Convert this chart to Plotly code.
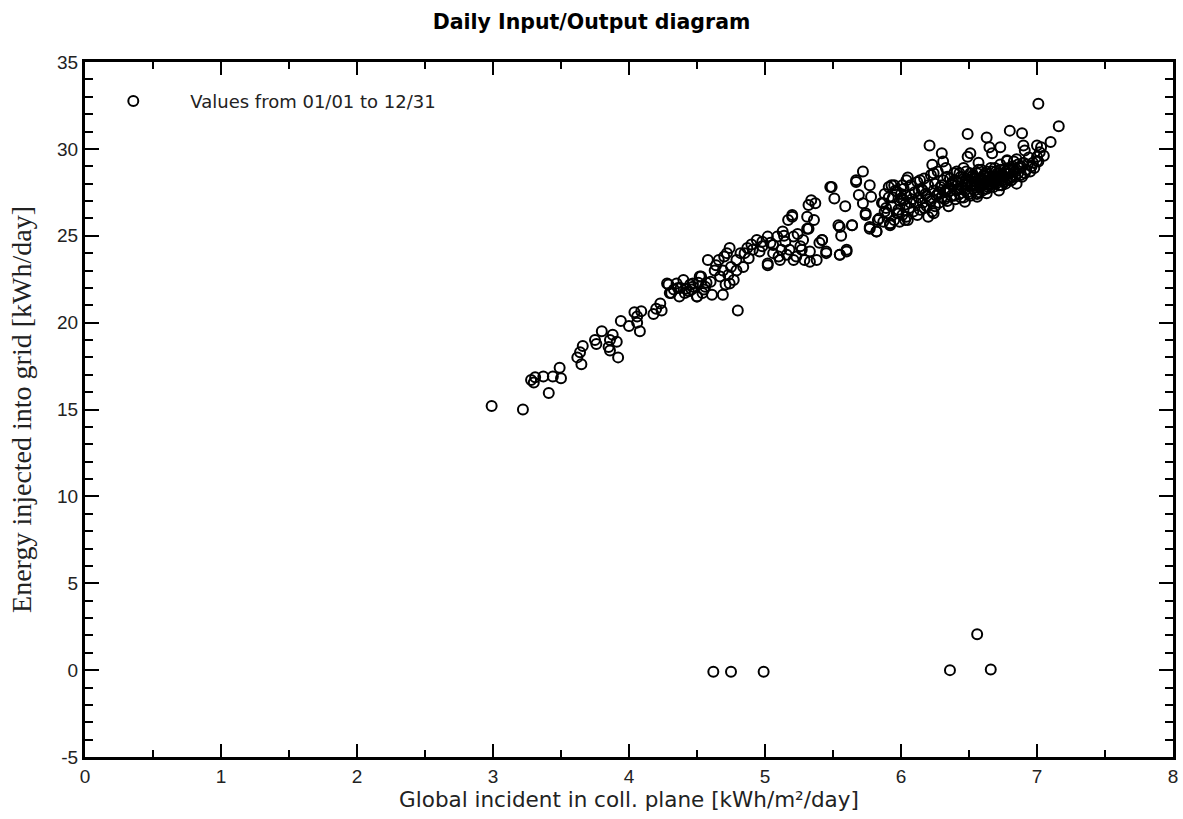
import plotly.graph_objects as go

# Global incident irradiation in collector plane [kWh/m2/day]
gi = [
    2.99, 3.22, 3.41, 3.28, 3.31, 3.30, 3.37, 3.44, 3.49, 3.50,
    3.62, 3.64, 3.66, 3.65, 3.75, 3.76, 3.80, 3.86, 3.88, 3.85, 3.91, 3.86, 3.92,
    3.94, 4.00, 4.04, 4.06, 4.08, 4.09, 4.06, 4.18, 4.20, 4.23, 4.24,
    4.28, 4.29, 4.33, 4.35, 4.37, 4.40, 4.42, 4.47, 4.50, 4.53, 4.55,
    4.47, 4.52, 4.50, 4.58, 4.56, 4.61, 4.66, 4.69, 4.69, 4.72, 4.74, 4.75, 4.77, 4.80,
    4.79, 4.84, 4.85, 4.88, 4.94, 4.98, 5.02, 5.02, 5.06, 5.10, 5.11, 5.13, 5.15, 5.18,
    5.17, 5.20, 5.21, 5.23, 5.26, 5.28, 5.31, 5.32, 5.32, 5.34, 5.37, 5.36, 5.33, 5.38,
    5.42, 5.45, 5.49, 5.51, 5.54, 5.56, 5.55, 5.60, 5.59, 5.64, 5.67, 5.69, 5.72, 5.72,
    5.77, 5.78, 5.74, 5.77, 5.82, 5.83, 5.87, 5.88, 5.92, 5.93, 5.97, 5.98, 6.02, 6.03,
    6.04, 6.00,
    4.45, 4.60, 4.63, 4.67, 4.73, 4.71, 4.74, 4.79, 4.82, 4.87,
    5.06, 5.16, 5.21, 5.29, 4.98, 4.91, 5.09, 5.12, 5.02, 5.33, 5.45, 5.55, 5.60,
    5.42, 5.31, 5.20, 5.48, 5.67, 5.64, 5.55, 5.74, 5.82, 5.77, 5.92, 5.97,
    4.30, 4.38, 4.44, 4.57, 4.64, 4.70, 4.90, 4.96, 5.04, 5.14, 5.24, 5.27, 5.40,
    5.86, 5.88, 5.90, 5.91, 5.93, 5.94, 5.95, 5.96, 5.98, 5.99, 6.00, 6.01, 6.02,
    6.03, 6.04, 6.05, 6.06, 6.07, 6.08, 6.09, 6.10, 6.11, 6.12, 6.13, 6.14, 6.15,
    6.16, 6.17, 6.18, 6.19, 6.20, 6.21, 6.22, 6.23, 6.24, 6.25, 6.26, 6.27, 6.28,
    6.29, 6.30, 6.31, 6.32, 6.33, 6.34, 6.35, 6.36, 6.37, 6.38, 6.39, 6.40, 6.41,
    6.42, 6.43, 6.44, 6.45, 6.46, 6.47, 6.48, 6.49, 6.50, 6.51, 6.52, 6.53, 6.54,
    6.55, 6.56, 6.57, 6.58, 6.59, 6.60, 6.61, 6.62, 6.63, 6.64, 6.65, 6.66, 6.67,
    6.68, 6.69, 6.70, 6.71, 6.72, 6.73, 6.74, 6.75, 6.76, 6.77, 6.78, 6.79, 6.80,
    6.82, 6.84, 6.85, 6.87, 6.89, 6.90, 6.92, 6.94, 6.96, 6.98, 7.00, 7.02, 7.05,
    6.05, 6.14, 6.16, 6.24, 6.23, 6.31, 6.30, 6.41, 6.51, 6.49, 6.57, 6.65, 6.67,
    6.73, 6.78, 6.83, 6.90, 6.91, 6.86, 7.00, 7.03, 7.00, 7.01, 6.95, 6.88, 7.10,
    7.16, 7.01, 6.80, 6.89, 6.63, 6.49, 6.21, 5.95,
    5.92, 5.99, 6.04, 6.12, 6.20, 6.24, 6.35, 6.47, 6.56, 6.63, 6.72, 6.85,
    6.33, 6.38, 6.44, 6.52, 6.58, 6.61, 6.66, 6.70, 6.74, 6.77, 6.81, 6.46, 6.55,
    6.28, 6.30, 6.32, 6.34, 6.36, 6.37, 6.39, 6.40, 6.42, 6.43, 6.44, 6.45, 6.47,
    6.48, 6.49, 6.50, 6.51, 6.52, 6.53, 6.54, 6.55, 6.56, 6.57, 6.58, 6.59, 6.60,
    6.61, 6.62, 6.63, 6.64, 6.65, 6.66, 6.67, 6.68, 6.69, 6.70, 6.71, 6.72, 6.73,
    6.74, 6.75, 6.76, 6.77, 6.78, 6.79, 6.80, 6.81, 6.83, 6.84, 6.86, 6.88, 6.91,
    6.93, 6.97,
    5.84, 5.87, 5.89, 5.91, 6.01, 6.07, 6.13, 6.17, 6.19, 6.22, 6.25, 6.27,
    4.31, 4.36, 4.41, 4.46, 4.51, 4.54,
    4.62, 4.75, 4.99, 6.36, 6.56, 6.66,
]

# Energy injected into grid [kWh/day]
energy = [
    15.2, 15.0, 15.95, 16.7, 16.85, 16.55, 16.9, 16.9, 17.4, 16.8,
    18.0, 18.3, 18.65, 17.6, 19.0, 18.77, 19.5, 19.0, 19.3, 18.6, 18.9, 18.4, 18.0,
    20.1, 19.8, 20.6, 20.0, 19.5, 20.65, 20.35, 20.5, 20.8, 21.1, 20.7,
    22.25, 22.2, 21.9, 22.25, 21.5, 22.45, 21.95, 22.25, 21.5, 22.65, 21.9,
    22.07, 22.65, 21.5, 23.6, 22.07, 21.6, 23.6, 23.0, 21.6, 24.0, 24.3, 23.2, 22.45, 20.7,
    23.6, 23.2, 24.0, 23.7, 24.75, 24.65, 24.95, 23.3, 24.47, 23.8, 23.6, 25.25, 24.65, 24.2,
    25.9, 26.2, 24.95, 23.8, 24.4, 24.75, 26.1, 25.4, 26.77, 27.05, 26.87, 25.9, 24.1, 23.6,
    24.75, 24.1, 27.8, 27.15, 25.6, 25.0, 23.9, 24.2, 26.7, 25.6, 28.1, 27.35, 28.7, 26.87,
    27.9, 27.25, 26.2, 25.4, 25.25, 25.9, 26.87, 26.4, 25.7, 27.9, 27.55, 26.3, 27.05, 25.9,
    28.2, 27.15,
    22.2, 22.35, 23.0, 22.65, 22.74, 22.2, 22.25, 23.0, 24.0, 24.3,
    24.0, 23.9, 23.6, 23.6, 24.4, 24.2, 24.95, 24.2, 23.4, 23.5, 24.0, 23.9, 24.1,
    24.75, 25.4, 26.1, 27.8, 28.2, 25.6, 25.5, 26.3, 25.25, 25.5, 25.7, 26.3,
    21.7, 22.0, 21.8, 22.3, 23.3, 23.8, 24.5, 24.1, 24.6, 25.0, 25.1, 24.2, 24.6,
    26.9, 27.4, 26.3, 27.8, 26.7, 27.2, 25.9, 27.6, 26.5, 27.0, 27.4, 26.2, 27.7,
    26.8, 27.3, 25.9, 26.6, 27.9, 27.1, 26.4, 27.5, 26.9, 28.1, 27.2, 26.5, 27.7,
    26.9, 28.3, 27.4, 26.7, 27.9, 27.1, 28.5, 26.4, 27.6, 28.0, 27.3, 28.7, 26.9,
    27.8, 27.2, 28.2, 27.5, 28.9, 27.0, 27.7, 28.3, 27.3, 27.9, 28.6, 27.1, 27.6,
    28.1, 27.4, 28.4, 27.8, 27.2, 28.0, 28.7, 27.5, 28.2, 27.3, 27.9, 28.5, 27.6,
    28.1, 27.4, 28.8, 27.8, 28.3, 27.6, 28.0, 28.6, 27.7, 28.2, 27.9, 28.9, 28.4,
    27.8, 28.1, 28.7, 28.3, 27.9, 29.1, 28.5, 28.2, 28.8, 28.0, 29.3, 28.6, 28.3,
    29.0, 28.7, 29.4, 28.9, 28.4, 29.2, 28.8, 29.5, 29.0, 28.9, 29.3, 29.8, 29.6,
    28.35, 28.2, 27.6, 28.6, 29.08, 29.27, 29.75, 28.7, 29.75, 29.55, 29.2, 30.1, 29.75,
    30.1, 29.35, 29.27, 30.2, 29.9, 29.1, 30.2, 30.1, 29.55, 29.27, 28.7, 28.5, 30.4,
    31.3, 32.6, 31.05, 30.9, 30.65, 30.85, 30.2, 27.9,
    25.6, 25.8, 26.1, 26.2, 26.1, 26.3, 26.7, 26.95, 27.25, 27.45, 27.6, 28.0,
    27.6, 28.1, 27.7, 28.4, 28.0, 28.5, 28.1, 28.4, 27.9, 28.6, 28.2, 28.9, 28.3,
    27.5, 27.9, 27.1, 28.4, 27.6, 28.0, 27.3, 28.2, 27.7, 28.6, 27.2, 28.1, 27.6,
    28.3, 27.9, 27.4, 28.6, 28.0, 27.7, 28.3, 27.9, 28.6, 27.5, 28.2, 28.8, 27.9,
    28.4, 28.1, 28.7, 27.8, 28.4, 28.0, 28.7, 28.3, 28.9, 28.0, 28.6, 28.2, 28.8,
    27.9, 28.5, 28.1, 28.7, 28.3, 28.9, 28.6, 28.2, 28.8, 28.4, 28.6, 29.0, 28.6,
    29.1, 29.2,
    26.0, 25.8, 26.6, 27.2, 27.9, 26.9, 27.6, 26.6, 27.3, 27.0, 26.7, 27.4,
    21.7, 22.0, 21.7, 21.9, 22.3, 21.7,
    -0.1, -0.1, -0.1, 0.0, 2.07, 0.04,
]

x_tickvals = [0, 1, 2, 3, 4, 5, 6, 7, 8]
x_ticktext = ["0", "1", "2", "3", "4", "5", "6", "7", "8"]
y_tickvals = [-5, 0, 5, 10, 15, 20, 25, 30, 35]
y_ticktext = ["-5", "0", "5", "10", "15", "20", "25", "30", "35"]

series_name = "Values from 01/01 to 12/31"

fig = go.Figure()
fig.add_trace(go.Scatter(
    x=gi, y=energy, mode="markers", name=series_name,
    marker=dict(symbol="circle-open", size=10, color="black",
                line=dict(color="black", width=2)),
    showlegend=True,
))

axis_common = dict(
    showline=True, linecolor="black", linewidth=3, mirror="ticks",
    ticks="inside", tickcolor="black", tickwidth=2,
    showgrid=False, zeroline=False,
    tickfont=dict(family="Liberation Sans, Arial", size=19, color="#222"),
)

fig.update_xaxes(
    range=[0, 8], tickvals=x_tickvals, ticktext=x_ticktext, ticklen=13,
    minor=dict(dtick=0.5, ticks="inside", ticklen=7, tickwidth=2, tickcolor="black", showgrid=False),
    title=dict(text="Global incident in coll. plane [kWh/m²/day]",
               font=dict(family="DejaVu Sans", size=21.5, color="#222"),
               standoff=4),
    **axis_common,
)
fig.update_yaxes(
    range=[-5, 35], tickvals=y_tickvals, ticktext=y_ticktext, ticklen=14,
    minor=dict(dtick=1, ticks="inside", ticklen=8, tickwidth=2, tickcolor="black", showgrid=False),
    title=dict(text="Energy injected into grid [kWh/day]",
               font=dict(family="Liberation Serif, Times New Roman", size=28, color="#222"),
               standoff=18),
    **axis_common,
)

fig.update_layout(
    width=1183, height=819,
    margin=dict(l=85, r=5, t=62, b=62),
    paper_bgcolor="white", plot_bgcolor="white",
    title=dict(text="<b>Daily Input/Output diagram</b>", x=0.5, xanchor="center",
               y=0.973, yanchor="middle",
               font=dict(family="DejaVu Sans", size=20.5, color="black")),
    legend=dict(x=-0.008, y=0.97, xanchor="left", yanchor="top",
                bgcolor="rgba(0,0,0,0)", itemwidth=104,
                font=dict(family="DejaVu Sans", size=18, color="#222")),
)

fig.write_html("out.html")
